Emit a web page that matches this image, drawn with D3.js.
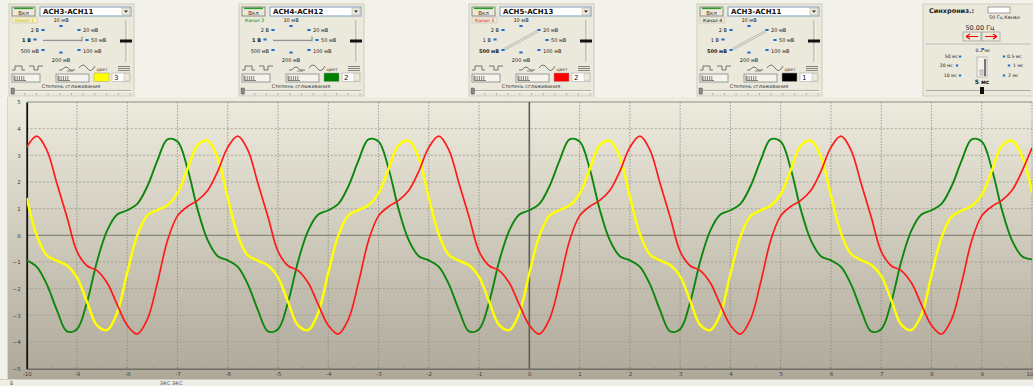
<!DOCTYPE html>
<html><head><meta charset="utf-8">
<script src="https://cdn.jsdelivr.net/npm/d3@7"></script>
<style>
body{margin:0;background:#f2f1ea;overflow:hidden}
svg{display:block;font-family:"DejaVu Sans","Liberation Sans",sans-serif}
</style>
</head><body>
<svg id="c" width="1033" height="386"></svg>
<script>
// ---------- data ----------
const xValues = [-10,-9.8,-9.6,-9.4,-9.2,-9,-8.8,-8.6,-8.4,-8.2,-8,-7.8,-7.6,-7.4,-7.2,-7,-6.8,-6.6,-6.4,-6.2,
 -6,-5.8,-5.6,-5.4,-5.2,-5,-4.8,-4.6,-4.4,-4.2,-4,-3.8,-3.6,-3.4,-3.2,-3,-2.8,-2.6,-2.4,-2.2,
 -2,-1.8,-1.6,-1.4,-1.2,-1,-0.8,-0.6,-0.4,-0.2,0,0.2,0.4,0.6,0.8,1,1.2,1.4,1.6,1.8,
 2,2.2,2.4,2.6,2.8,3,3.2,3.4,3.6,3.8,4,4.2,4.4,4.6,4.8,5,5.2,5.4,5.6,5.8,
 6,6.2,6.4,6.6,6.8,7,7.2,7.4,7.6,7.8,8,8.2,8.4,8.6,8.8,9,9.2,9.4,9.6,9.8,10];
const yellowValues = [
 1.4,0.0,-0.75,-0.95,-1.13,-1.58,-2.5,-3.38,-3.55,-2.9,-1.4,0.0,0.75,0.95,1.13,1.58,2.5,3.38,3.55,2.9,
 1.4,0.0,-0.75,-0.95,-1.13,-1.58,-2.5,-3.38,-3.55,-2.9,-1.4,0.0,0.75,0.95,1.13,1.58,2.5,3.38,3.55,2.9,
 1.42,0.02,-0.74,-0.95,-1.12,-1.56,-2.48,-3.37,-3.55,-2.92,-1.42,-0.02,0.74,0.95,1.12,1.56,2.48,3.37,3.55,2.92,
 1.45,0.05,-0.72,-0.94,-1.11,-1.54,-2.45,-3.36,-3.55,-2.95,-1.45,-0.05,0.72,0.94,1.11,1.54,2.45,3.36,3.55,2.95,
 1.5,0.08,-0.7,-0.93,-1.1,-1.52,-2.42,-3.35,-3.55,-2.98,-1.5,-0.08,0.7,0.93,1.1,1.52,2.42,3.35,3.55,2.98,1.6];
const greenValues = [
 -0.94,-1.18,-1.84,-2.8,-3.6,-3.52,-2.5,-0.97,0.18,0.78,0.94,1.18,1.84,2.8,3.6,3.52,2.5,0.97,-0.18,-0.78,
 -0.94,-1.18,-1.84,-2.8,-3.6,-3.52,-2.5,-0.97,0.18,0.78,0.94,1.18,1.84,2.8,3.6,3.52,2.5,0.97,-0.18,-0.78,
 -0.94,-1.18,-1.84,-2.8,-3.6,-3.52,-2.5,-0.97,0.18,0.78,0.94,1.18,1.84,2.8,3.6,3.52,2.5,0.97,-0.18,-0.78,
 -0.94,-1.18,-1.84,-2.8,-3.6,-3.52,-2.5,-0.97,0.18,0.78,0.94,1.18,1.84,2.8,3.6,3.52,2.5,0.97,-0.18,-0.78,
 -0.94,-1.18,-1.84,-2.8,-3.6,-3.52,-2.5,-0.97,0.18,0.78,0.94,1.18,1.84,2.8,3.6,3.52,2.5,0.97,-0.18,-0.78,-0.9];
const redValues = [
 3.3,3.72,3.2,1.95,0.7,-0.6,-1.14,-1.32,-1.78,-2.6,-3.37,-3.7,-3.15,-1.78,-0.2,0.73,1.08,1.31,1.68,2.4,
 3.3,3.72,3.2,1.95,0.7,-0.6,-1.14,-1.32,-1.78,-2.6,-3.37,-3.7,-3.15,-1.78,-0.2,0.73,1.08,1.31,1.68,2.4,
 3.3,3.72,3.2,1.95,0.7,-0.6,-1.14,-1.32,-1.78,-2.6,-3.37,-3.7,-3.15,-1.78,-0.2,0.73,1.08,1.31,1.68,2.4,
 3.3,3.72,3.2,1.95,0.7,-0.6,-1.14,-1.32,-1.78,-2.6,-3.37,-3.7,-3.15,-1.78,-0.2,0.73,1.08,1.31,1.68,2.4,
 3.3,3.72,3.2,1.95,0.7,-0.6,-1.14,-1.32,-1.78,-2.6,-3.37,-3.7,-3.15,-1.78,-0.2,0.73,1.08,1.31,1.68,2.4,3.28];
const xTicks = [-10,-9,-8,-7,-6,-5,-4,-3,-2,-1,0,1,2,3,4,5,6,7,8,9,10];
const yTicks = [-5,-4,-3,-2,-1,0,1,2,3,4,5];
const xTickLabels = ["-10","-9","-8","-7","-6","-5","-4","-3","-2","-1","0","1","2","3","4","5","6","7","8","9","10"];
const channelNames = ["ACH3-ACH11","ACH4-ACH12","ACH5-ACH13","ACH3-ACH11"];
const channelLabels = ["Канал 1","Канал 2","Канал 3","Канал 4"];
const channelColors = ["#ffff00","#008000","#ff0000","#000000"];
const channelNumbers = ["3","2","2","1"];
const voltLabels = ["10 мВ","20 мВ","50 мВ","100 мВ","200 мВ","500 мВ","1 В","2 В"];
const timeLabels = ["0.2 мс","0.5 мс","1 мс","2 мс","5 мс","10 мс","20 мс","50 мс"];

// ---------- drawing ----------
const svg = d3.select("#c");
const defs = svg.append("defs");
const grad = defs.append("linearGradient").attr("id","bg").attr("x1",0).attr("x2",0).attr("y1",0).attr("y2",1);
grad.append("stop").attr("offset","0%").attr("stop-color","#eeecdf");
grad.append("stop").attr("offset","100%").attr("stop-color","#aea899");

svg.append("rect").attr("width",1033).attr("height",386).attr("fill","#f2f1ea");

// ----- control panels -----
const panelX = [9,239,469,697];
function channelPanel(i){
  const x0 = panelX[i], y0 = 4;
  const g = svg.append("g").attr("transform",`translate(${x0},${y0})`);
  g.append("rect").attr("x",0).attr("y",0).attr("width",125).attr("height",92)
    .attr("fill","#ebe9dc").attr("stroke","#cfcbbb");
  g.append("rect").attr("x",3).attr("y",3).attr("width",23).attr("height",9).attr("fill","#ece9d8").attr("stroke","#8a8a80");
  g.append("rect").attr("x",5).attr("y",3.5).attr("width",19).attr("height",1.6).attr("fill","#2e9b2e");
  g.append("text").attr("x",14.5).attr("y",10.8).attr("text-anchor","middle").attr("font-size",5.5).attr("fill","#333").text("Вкл");
  g.append("rect").attr("x",3).attr("y",13).attr("width",25).attr("height",6)
    .attr("fill", i===0 ? "#f4f0c4" : "none").attr("stroke", i===1 ? "none" : "#c7c3b3").attr("stroke-width",0.6);
  g.append("text").attr("x",15.5).attr("y",17.9).attr("text-anchor","middle").attr("font-size",4.6)
    .attr("fill", i===0 ? "#c8b400" : channelColors[i]).text(channelLabels[i]);
  g.append("rect").attr("x",31).attr("y",3).attr("width",91).attr("height",9).attr("fill","#fff").attr("stroke","#7f9db9");
  g.append("text").attr("x",34).attr("y",10.3).attr("font-size",7).attr("font-weight","bold").attr("fill","#111").text(channelNames[i]);
  g.append("rect").attr("x",113).attr("y",4).attr("width",8).attr("height",7).attr("fill","#ece9d8").attr("stroke","#aaa").attr("stroke-width",0.5);
  g.append("path").attr("d","M115,6.5 L119,6.5 L117,8.8 Z").attr("fill","#222");
  const dots = [[52,22],[70,26],[78,36],[70,46],[52,48.5],[34,46],[26,35.5],[34,26]];
  const labelPos = [[52,18,"middle"],[74,27.8,"start"],[82,38,"start"],[74,48.5,"start"],[52,57.5,"middle"],[30,48.5,"end"],[22,38,"end"],[30,27.8,"end"]];
  const selected = (i<2) ? 6 : 5;
  dots.forEach((d,k)=>{
    g.append("rect").attr("x",d[0]-1.6).attr("y",d[1]-1).attr("width",3.2).attr("height",2).attr("fill","#1f6fd0");
    g.append("text").attr("x",labelPos[k][0]).attr("y",labelPos[k][1]).attr("text-anchor",labelPos[k][2])
      .attr("font-size",5).attr("font-weight",k===selected?"bold":"normal").attr("fill","#222").text(voltLabels[k]);
  });
  if(i<2){
    g.append("path").attr("d","M34,36.3 L73,36.3 M73,32.5 L73,37.5").attr("stroke","#666").attr("stroke-width",0.8).attr("fill","none");
    g.append("path").attr("d","M34,37.6 L73,37.6").attr("stroke","#ddd").attr("stroke-width",0.8);
  } else {
    g.append("path").attr("d","M35,44.5 L68,26.5 M36,46 L69,28").attr("stroke","#999").attr("stroke-width",0.6).attr("fill","none");
  }
  g.append("line").attr("x1",117).attr("x2",117).attr("y1",16).attr("y2",58).attr("stroke","#888").attr("stroke-width",0.8);
  g.append("line").attr("x1",118).attr("x2",118).attr("y1",16).attr("y2",58).attr("stroke","#fff").attr("stroke-width",0.6);
  g.append("rect").attr("x",111).attr("y",35.5).attr("width",12).attr("height",3).attr("fill","#111");
  const icons = ["M3,66 L6,66 L6,62 L13,62 L13,66 L16,66","M20,62 L25,62 L25,66 L29,66 L29,62 L34,62",
                 "M50,66 L53,66 Q57,60 61,66 L66,66","M70,64 Q74,58 78,64 Q82,70 86,62"];
  icons.forEach(d=>g.append("path").attr("d",d).attr("fill","none").attr("stroke","#444").attr("stroke-width",0.7));
  g.append("path").attr("d","M58,67 L64,67").attr("stroke","#444").attr("stroke-width",0.6);
  [[3,28],[47,33]].forEach(b=>{
    g.append("rect").attr("x",b[0]).attr("y",70).attr("width",b[1]).attr("height",8).attr("fill","#f4f3ec").attr("stroke","#777").attr("stroke-width",0.7);
    for(let t=0;t<5;t++) g.append("line").attr("x1",b[0]+3+t*2.2).attr("x2",b[0]+3+t*2.2).attr("y1",72).attr("y2",76).attr("stroke","#333").attr("stroke-width",0.6);
    g.append("path").attr("d",`M${b[0]+2},76.5 L${b[0]+14},76.5 M${b[0]+2},71.5 L${b[0]+2},76.5`).attr("stroke","#333").attr("stroke-width",0.6);
  });
  g.append("text").attr("x",93).attr("y",66.5).attr("text-anchor","middle").attr("font-size",4.5).attr("fill","#333").text("цвет");
  [62.5,64.5,66.5].forEach(yy=>g.append("line").attr("x1",109).attr("x2",121).attr("y1",yy).attr("y2",yy).attr("stroke","#777").attr("stroke-width",0.9));
  g.append("rect").attr("x",85).attr("y",69).attr("width",15).attr("height",8.5).attr("fill",channelColors[i]).attr("stroke","#999").attr("stroke-width",0.5);
  g.append("rect").attr("x",103).attr("y",69).attr("width",18).attr("height",8.5).attr("fill","#fff").attr("stroke","#999").attr("stroke-width",0.5);
  g.append("text").attr("x",105).attr("y",76).attr("font-size",7).attr("fill","#111").text(channelNumbers[i]);
  g.append("rect").attr("x",115).attr("y",69.5).attr("width",5.5).attr("height",7.5).attr("fill","#ece9d8").attr("stroke","#aaa").attr("stroke-width",0.4);
  g.append("text").attr("x",62).attr("y",83.5).attr("text-anchor","middle").attr("font-size",5).attr("fill","#333").text("Степень сглаживания");
  g.append("line").attr("x1",2).attr("x2",122).attr("y1",86.5).attr("y2",86.5).attr("stroke","#999").attr("stroke-width",0.8);
  g.append("line").attr("x1",2).attr("x2",122).attr("y1",87.5).attr("y2",87.5).attr("stroke","#fff").attr("stroke-width",0.6);
  g.append("rect").attr("x",2).attr("y",84).attr("width",3.5).attr("height",6).attr("fill","#888").attr("stroke","#555").attr("stroke-width",0.4);
  for(let t=0;t<11;t++) g.append("line").attr("x1",4+t*11.7).attr("x2",4+t*11.7).attr("y1",89.5).attr("y2",91).attr("stroke","#555").attr("stroke-width",0.5);
}
[0,1,2,3].forEach(channelPanel);

// sync panel
(function(){
  const g = svg.append("g").attr("transform","translate(923,4)");
  g.append("rect").attr("x",0).attr("y",0).attr("width",112).attr("height",92).attr("fill","#ebe9dc").attr("stroke","#cfcbbb");
  g.append("text").attr("x",6).attr("y",9).attr("font-size",6.5).attr("font-weight","bold").attr("fill","#222").text("Синхрониз.:");
  g.append("rect").attr("x",65).attr("y",3).attr("width",22).attr("height",6).attr("fill","#fff").attr("stroke","#666").attr("stroke-width",0.6);
  g.append("text").attr("x",66).attr("y",15).attr("font-size",4.8).attr("fill","#222").text("50 Гц   Канал");
  g.append("text").attr("x",57).attr("y",26).attr("text-anchor","middle").attr("font-size",6.5).attr("fill","#222").text("50.00 Гц");
  [[40,28],[59,28]].forEach((b,k)=>{
    g.append("rect").attr("x",b[0]).attr("y",b[1]).attr("width",18).attr("height",9).attr("fill","#ece9d8").attr("stroke","#888").attr("stroke-width",0.6);
    g.append("path").attr("d", k===0 ? `M${b[0]+3},${b[1]+4.5} L${b[0]+15},${b[1]+4.5} M${b[0]+3},${b[1]+4.5} L${b[0]+7},${b[1]+2} M${b[0]+3},${b[1]+4.5} L${b[0]+7},${b[1]+7}`
                                     : `M${b[0]+3},${b[1]+4.5} L${b[0]+15},${b[1]+4.5} M${b[0]+15},${b[1]+4.5} L${b[0]+11},${b[1]+2} M${b[0]+15},${b[1]+4.5} L${b[0]+11},${b[1]+7}`)
      .attr("stroke","#e00").attr("stroke-width",1.2).attr("fill","none");
  });
  g.append("line").attr("x1",3).attr("x2",108).attr("y1",40).attr("y2",40).attr("stroke","#bbb");
  const tl = [[60,48,"middle",0],[84,54,"start",1],[90,63,"start",2],[85,73,"start",3],[59,80,"middle",4],[34,73,"end",5],[30,63,"end",6],[35,54,"end",7]];
  const td = [[60,45],[81,52.5],[86,61.5],[81,71.5],null,[37,71.5],[34,61.5],[37,52.5]];
  tl.forEach((t,k)=>{
    g.append("text").attr("x",t[0]).attr("y",t[1]).attr("text-anchor",t[2]).attr("font-size",k===4?6:4.6)
      .attr("font-weight",k===4?"bold":"normal").attr("fill","#222").text(timeLabels[t[3]]);
    if(td[k]) g.append("rect").attr("x",td[k][0]-1.2).attr("y",td[k][1]-1).attr("width",2.4).attr("height",2).attr("fill","#1f6fd0");
  });
  g.append("rect").attr("x",54).attr("y",53).attr("width",10).attr("height",20).attr("fill","#f3f2ea").attr("stroke","#999").attr("stroke-width",0.6);
  g.append("line").attr("x1",62).attr("x2",62).attr("y1",55).attr("y2",72).attr("stroke","#222").attr("stroke-width",1.2);
  g.append("rect").attr("x",57).attr("y",66).attr("width",3).attr("height",5).attr("fill","#ddd").attr("stroke","#666").attr("stroke-width",0.4);
  g.append("line").attr("x1",3).attr("x2",108).attr("y1",86.5).attr("y2",86.5).attr("stroke","#999").attr("stroke-width",0.8);
  g.append("rect").attr("x",57).attr("y",83).attr("width",4).attr("height",7).attr("fill","#111");
})();

// ----- chart -----
const x = d3.scaleLinear().domain([-10,10]).range([26.7,1032]);
const y = d3.scaleLinear().domain([-5,5]).range([368.7,102]);

svg.append("rect").attr("x",7).attr("y",97).attr("width",1026).attr("height",283).attr("fill","url(#bg)");
svg.append("line").attr("x1",7.5).attr("x2",7.5).attr("y1",97).attr("y2",380).attr("stroke","#d8d6cc");
svg.append("rect").attr("x",0).attr("y",379.5).attr("width",1033).attr("height",7).attr("fill","#efeee6");
svg.append("line").attr("x1",0).attr("x2",1033).attr("y1",379.5).attr("y2",379.5).attr("stroke","#d0cec2");

const grid = svg.append("g");
grid.selectAll("line.v").data(xTicks.filter(d=>d!==0 && d!==-10)).join("line")
  .attr("x1",d=>x(d)).attr("x2",d=>x(d)).attr("y1",y(5)).attr("y2",y(-5))
  .attr("stroke","#8d8a80").attr("stroke-width",0.8).attr("stroke-dasharray","1.5,1.5");
grid.selectAll("line.h").data(yTicks.filter(d=>d!==0 && d!==-5 && d!==5)).join("line")
  .attr("x1",x(-10)).attr("x2",x(10)).attr("y1",d=>y(d)).attr("y2",d=>y(d))
  .attr("stroke","#9a978c").attr("stroke-width",0.8).attr("stroke-dasharray","2,2");
svg.append("line").attr("x1",x(-10)).attr("x2",x(10)).attr("y1",y(5)).attr("y2",y(5)).attr("stroke","#8e8b80").attr("stroke-width",1);
svg.append("line").attr("x1",x(-10)).attr("x2",x(10)).attr("y1",y(0)).attr("y2",y(0)).attr("stroke","#8a877d").attr("stroke-width",1.4);
svg.append("line").attr("x1",x(0)).attr("x2",x(0)).attr("y1",y(5)).attr("y2",y(-5)).attr("stroke","#5e5c56").attr("stroke-width",1.6);

const xAxis = svg.append("g").attr("transform",`translate(0,${y(-5)})`)
  .call(d3.axisBottom(x).tickValues(xTicks).tickFormat((d,i)=>xTickLabels[i]).tickSize(0).tickPadding(3));
xAxis.select(".domain").attr("stroke","#6f6d66").attr("stroke-width",1.6);
xAxis.selectAll("text").attr("font-size",5.5).attr("fill","#3a3a3a").attr("font-family","DejaVu Sans")
  .attr("text-anchor",d=>d===10?"end":"middle").attr("dx",d=>d===10?"1":"0");
const yAxis = svg.append("g").attr("transform",`translate(${x(-10)},0)`)
  .call(d3.axisLeft(y).tickValues(yTicks).tickSize(0).tickPadding(6));
yAxis.select(".domain").attr("stroke","#111").attr("stroke-width",1.8);
yAxis.selectAll("text").attr("font-size",5.5).attr("fill","#3a3a3a").attr("font-family","DejaVu Sans");
svg.append("g").selectAll("line").data(d3.range(-10,10.01,0.5)).join("line")
  .attr("x1",d=>x(d)).attr("x2",d=>x(d)).attr("y1",y(-5)-1.5).attr("y2",y(-5))
  .attr("stroke","#6f6d66").attr("stroke-width",0.6);

const line = d3.line().x((d,i)=>x(xValues[i])).y(d=>y(d)).curve(d3.curveCatmullRom.alpha(0.5));
const series = [
  {values:greenValues, color:"#0c870c", w:1.9},
  {values:yellowValues, color:"#ffff00", w:2.5},
  {values:redValues, color:"#ff1a1a", w:1.7}
];
defs.append("clipPath").attr("id","pc").append("rect")
  .attr("x",x(-10)).attr("y",y(5)).attr("width",x(10)-x(-10)).attr("height",y(-5)-y(5));
svg.append("g").attr("clip-path","url(#pc)").selectAll("path").data(series).join("path")
  .attr("d",d=>line(d.values)).attr("fill","none").attr("stroke",d=>d.color).attr("stroke-width",d=>d.w)
  .attr("stroke-linejoin","round");

svg.append("text").attr("x",10).attr("y",385).attr("font-size",5).attr("fill","#555").text("Б");
svg.append("text").attr("x",160).attr("y",385).attr("font-size",5).attr("fill","#555").text("ЭКС   ЭКС");
</script>
</body></html>
